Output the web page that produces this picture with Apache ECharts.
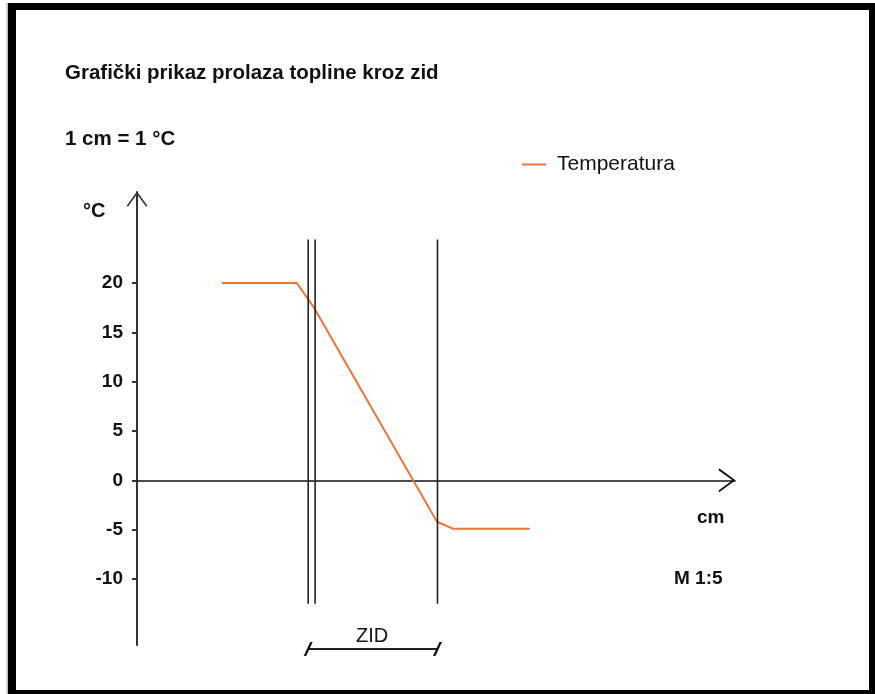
<!DOCTYPE html>
<html><head><meta charset="utf-8">
<script src="https://cdn.jsdelivr.net/npm/echarts@6/dist/echarts.min.js"></script>
<style>html,body{margin:0;padding:0;background:#fff}#c{width:875px;height:694px}</style>
</head><body><div id="c"></div>
<script>
// Temperature profile through the wall (x in cm, y in °C)
const tempX = [8.6, 16.2, 18.0, 30.4, 32.0, 39.8];
const tempY = [20, 20, 17.4, -4.2, -4.9, -4.9];
// wall boundary lines
const wallX = [17.35, 18.05, 30.45];
const wallTop = 24.4;
const wallBottom = -12.5;
// dimension line "ZID"
const zidX = [17.35, 30.45];
const zidY = -17.1;
// y axis ticks
const yTicks = [-10, -5, 0, 5, 10, 15, 20];

const FONT = 'Liberation Sans, Arial, sans-serif';
const chevron = 'path://M0,15 L11,0 L22,15 L20.3,15.6 L11,2.8 L1.7,15.6 Z';
const slash = 'path://M0,14 L2.8,14 L10,0 L7.2,0 Z';

const chart = echarts.init(document.getElementById('c'), null, {renderer: 'canvas'});

const series = [];
wallX.forEach(function (x, i) {
  series.push({
    name: 'wall' + i, type: 'line', silent: true, symbol: 'none', z: 3,
    data: [[x, wallTop], [x, wallBottom]],
    lineStyle: {color: '#222', width: 1.6}
  });
});
series.push({
  name: 'Temperatura', type: 'line', symbol: 'none', z: 2,
  data: tempX.map(function (x, i) { return [x, tempY[i]]; }),
  lineStyle: {color: '#E2783A', width: 2},
  itemStyle: {color: '#E2783A'}
});
series.push({
  name: 'zid', type: 'line', silent: true, clip: false, z: 3,
  symbol: slash, symbolSize: [9, 14], showSymbol: true,
  data: zidX.map(function (x) { return [x, zidY]; }),
  lineStyle: {color: '#222', width: 2},
  itemStyle: {color: '#111'}
});

chart.setOption({
  animation: false,
  backgroundColor: '#fff',
  grid: {left: 137, right: 140, top: 192, bottom: 49},
  legend: {
    data: ['Temperatura'], left: 522, top: 154, padding: 0, icon: 'rect',
    itemWidth: 24, itemHeight: 2,
    textStyle: {fontFamily: FONT, fontSize: 21, color: '#111', padding: [0, 0, 0, 6]}
  },
  xAxis: {
    type: 'value', min: 0, max: 60.6,
    axisLine: {show: true, onZero: true, symbol: ['none', chevron], symbolSize: [24, 17], symbolOffset: [0, -8],
      lineStyle: {color: '#111', width: 1.6}},
    axisTick: {show: false}, axisLabel: {show: false}, splitLine: {show: false}
  },
  yAxis: {
    type: 'value', min: -16.69, max: 29.22,
    axisLine: {show: true, onZero: false, symbol: ['none', chevron], symbolSize: [22, 15], symbolOffset: [0, -7],
      lineStyle: {color: '#333', width: 2}},
    axisTick: {show: true, customValues: yTicks, length: 5, lineStyle: {color: '#333', width: 2}},
    axisLabel: {customValues: yTicks, margin: 14, fontFamily: FONT, fontWeight: 'bold', fontSize: 19, color: '#111'},
    splitLine: {show: false}
  },
  graphic: [
    {type: 'rect', shape: {x: 8, y: 3, width: 8, height: 691}, style: {fill: '#000'}},
    {type: 'rect', shape: {x: 8, y: 3, width: 867, height: 7}, style: {fill: '#000'}},
    {type: 'rect', shape: {x: 8, y: 690, width: 867, height: 4}, style: {fill: '#000'}},
    {type: 'rect', shape: {x: 869, y: 3, width: 6, height: 691}, style: {fill: '#000'}},
    {type: 'rect', shape: {x: 6, y: 3, width: 2, height: 691}, style: {fill: '#ccc'}},
    {type: 'text', left: 65, top: 63, style: {text: 'Grafički prikaz prolaza topline kroz zid', font: 'bold 20.5px ' + FONT, fill: '#111'}},
    {type: 'text', left: 65, top: 129, style: {text: '1 cm = 1 °C', font: 'bold 20.5px ' + FONT, fill: '#111'}},
    {type: 'text', left: 83, top: 201, style: {text: '°C', font: 'bold 20px ' + FONT, fill: '#111'}},
    {type: 'text', left: 697, top: 508, style: {text: 'cm', font: 'bold 19px ' + FONT, fill: '#111'}},
    {type: 'text', left: 674, top: 569, style: {text: 'M 1:5', font: 'bold 19px ' + FONT, fill: '#111'}},
    {type: 'text', left: 356, top: 626, style: {text: 'ZID', font: '20px ' + FONT, fill: '#111'}}
  ],
  series: series
});
</script></body></html>
